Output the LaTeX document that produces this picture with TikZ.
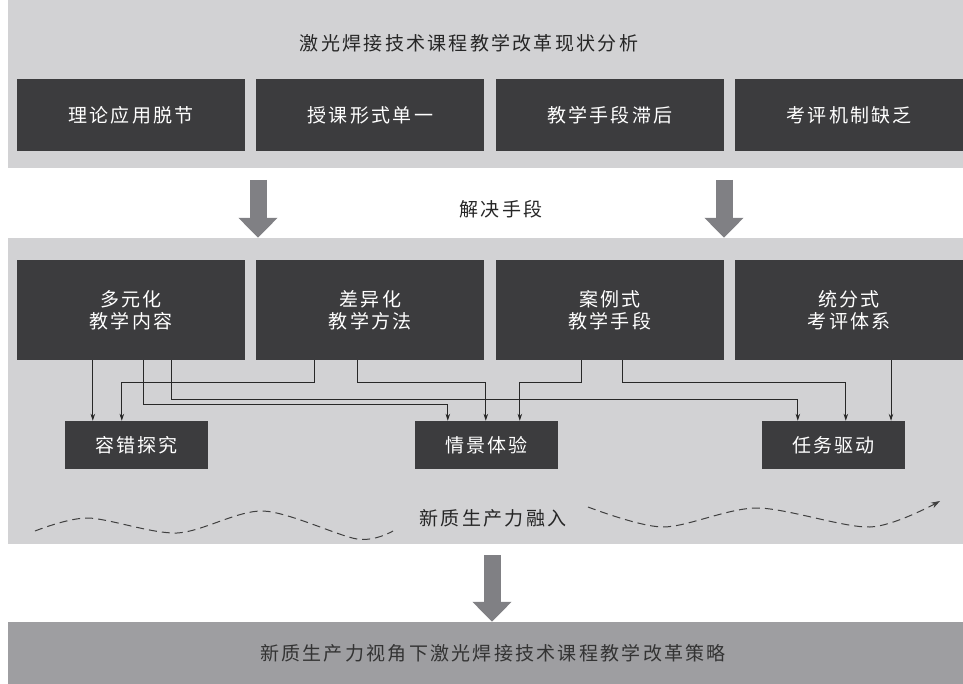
\documentclass[tikz,border=0pt]{standalone}
\usepackage{fontspec}
\newfontfamily\cjk[LetterSpace=12]{Noto Sans CJK SC}
\usetikzlibrary{positioning,arrows.meta}
\definecolor{panelgray}{RGB}{210,210,212}
\definecolor{boxdark}{RGB}{60,60,62}
\definecolor{arrowgray}{RGB}{128,128,132}
\definecolor{resultgray}{RGB}{158,158,161}
\definecolor{linkgray}{RGB}{40,40,40}
\begin{document}
\begin{tikzpicture}[x=1pt, y=-1pt,
font=\cjk\fontsize{19}{22}\selectfont,
panel/.style={rectangle, fill=panelgray, minimum width=955pt, inner sep=0pt},
issue/.style={rectangle, fill=boxdark, text=white, minimum width=228pt, minimum height=72pt, inner sep=0pt},
measure/.style={issue, minimum height=100pt, align=center},
effect/.style={rectangle, fill=boxdark, text=white, minimum width=143pt, minimum height=48pt, inner sep=0pt},
heading/.style={text=black!85},
link/.style={draw=linkgray, line width=0.8pt, -{Stealth[length=7pt, width=4.5pt]}},
bigarrow/.style={draw=arrowgray, line width=17pt, -{Triangle[length=20pt, width=38pt]}},
wave/.style={draw=black!75, line width=1pt, dash pattern=on 8pt off 5pt},
]
\useasboundingbox (0,0) rectangle (963,684);

% panels
\node[panel, minimum height=168pt] (status) at (485.5,84) {};
\node[panel, minimum height=306pt] (means) at (485.5,391) {};
\node[panel, fill=resultgray, minimum height=62pt] (strategy) at (485.5,653) {};

% current state
\node[heading] (title) at (469,43) {激光焊接技术课程教学改革现状分析};
\node[issue] (p1) at (131,115) {理论应用脱节};
\node[issue, right=11pt of p1] (p2) {授课形式单一};
\node[issue, right=11pt of p2] (p3) {教学手段滞后};
\node[issue, right=11pt of p3] (p4) {考评机制缺乏};

\node[heading] (solve) at (501,209) {解决手段};
\coordinate (d1) at (258,180);
\coordinate (d2) at (724,180);
\draw[bigarrow] (d1) -- (d1 |- means.north);
\draw[bigarrow] (d2) -- (d2 |- means.north);

% measures
\node[measure] (m1) at (131,310) {多元化\\教学内容};
\node[measure, right=11pt of m1] (m2) {差异化\\教学方法};
\node[measure, right=11pt of m2] (m3) {案例式\\教学手段};
\node[measure, right=11pt of m3] (m4) {统分式\\考评体系};

\node[effect] (r1) at (136.5,445) {容错探究};
\node[effect] (r2) at (486.5,445) {情景体验};
\node[effect] (r3) at (833.5,445) {任务驱动};

\draw[link] ([xshift=76]m1.south west) -- ([xshift=76]m1.south west |- r1.north);
\draw[link] ([xshift=127]m1.south west) -- ++(0,44) -| ([xshift=33]r2.north west);
\draw[link] ([xshift=155]m1.south west) -- ++(0,39) -| ([xshift=36]r3.north west);
\draw[link] ([xshift=58]m2.south west) -- ++(0,22) -| ([xshift=57]r1.north west);
\draw[link] ([xshift=101]m2.south west) -- ++(0,22) -| ([xshift=71]r2.north west);
\draw[link] ([xshift=86]m3.south west) -- ++(0,22) -| ([xshift=105]r2.north west);
\draw[link] ([xshift=127]m3.south west) -- ++(0,22) -| ([xshift=84]r3.north west);
\draw[link] ([xshift=156]m4.south west) -- ([xshift=156]m4.south west |- r3.north);

% new productivity
\node[heading] (fusion) at (493,518) {新质生产力融入};
\draw[wave] plot[smooth] coordinates {(35,531) (88,518) (177,533) (263,511) (357,539) (393,531)};
\draw[wave, -{Stealth[length=9pt, width=6pt]}] plot[smooth] coordinates {(588,507) (663,527) (757,508) (870,527) (940,501)};

\coordinate (d3) at (492,555);
\draw[bigarrow] (d3) -- (d3 |- strategy.north);
\node[text=black!80] (goal) at (493,653) {新质生产力视角下激光焊接技术课程教学改革策略};
\end{tikzpicture}
\end{document}
